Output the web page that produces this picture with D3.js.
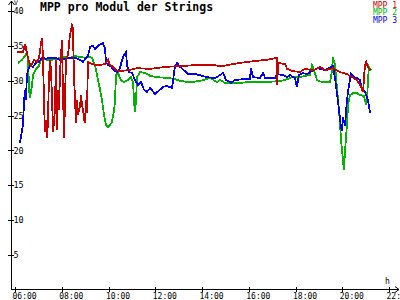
<!DOCTYPE html>
<html>
<head>
<meta charset="utf-8">
<script src="https://cdn.jsdelivr.net/npm/d3@7"></script>
<style>
  body { margin: 0; background: #fff; }
  svg { display: block; }
  text { font-family: "DejaVu Sans Mono", monospace; }
</style>
</head>
<body>
<svg width="400" height="300"></svg>
<script>
// time in hours, value in volts
const mpp1 = [
  [6.09,34.1],[6.34,34.1],[6.43,35.3],[6.51,34.0],[6.60,32.7],[6.68,32.1],[6.81,33.0],[6.94,32.7],
  [7.03,33.3],[7.11,35.3],[7.16,36.1],[7.20,33.0],[7.24,27.2],[7.28,22.6],[7.33,24.35],[7.37,21.8],
  [7.41,24.1],[7.45,30.1],[7.50,33.0],[7.54,31.5],[7.58,27.95],[7.63,22.6],[7.71,25.8],[7.75,33.0],
  [7.80,22.9],[7.84,28.7],[7.88,25.8],[7.93,31.5],[8.01,35.85],[8.05,28.7],[8.10,21.8],[8.14,27.2],
  [8.18,33.0],[8.27,33.7],[8.35,36.6],[8.40,37.3],[8.44,38.0],[8.48,37.6],[8.52,30.8],[8.57,27.2],
  [8.61,23.9],[8.65,27.2],[8.70,25.1],[8.74,25.8],[8.78,26.2],[8.82,27.95],[8.87,26.5],[8.91,25.8],
  [8.95,24.6],[8.99,23.9],[9.04,27.2],[9.08,25.4],[9.12,32.7],[9.21,32.55],[9.42,32.25],[9.64,32.25],
  [9.85,32.4],[9.98,33.0],[10.06,32.25],[10.19,32.0],[10.32,31.5],[10.49,31.4],[10.83,31.5],[11.22,31.8],
  [11.78,31.7],[12.50,32.0],[13.06,32.1],[13.79,32.25],[14.43,32.25],[14.86,32.1],[15.33,32.4],[15.93,32.7],
  [16.35,32.85],[16.78,33.0],[17.21,33.3],[17.22,29.4],[17.25,32.55],[17.55,32.4],[17.64,31.7],[17.85,31.4],
  [18.19,31.25],[18.41,31.7],[18.75,31.5],[19.05,32.0],[19.26,31.5],[19.60,31.8],[19.90,31.25],[20.20,30.95],
  [20.42,30.5],[20.63,30.1],[20.76,29.4],[20.89,28.4],[20.97,32.25],[21.02,32.7],[21.10,32.0],[21.19,31.5]
];

const mpp2 = [
  [6.13,32.55],[6.30,33.0],[6.43,33.55],[6.51,34.0],[6.56,33.0],[6.60,28.7],[6.64,27.5],[6.73,29.4],
  [6.77,30.8],[6.86,31.5],[6.94,31.8],[7.03,32.1],[7.07,32.7],[7.20,33.3],[7.37,33.0],[7.58,33.0],
  [7.80,33.15],[8.05,33.4],[8.35,33.3],[8.57,33.55],[8.78,33.4],[9.04,33.3],[9.21,33.4],[9.29,33.3],
  [9.42,32.25],[9.51,30.8],[9.64,28.7],[9.72,27.2],[9.81,25.1],[9.89,23.6],[9.98,23.35],[10.06,23.6],
  [10.15,24.1],[10.24,25.8],[10.28,27.2],[10.32,30.8],[10.41,31.1],[10.53,30.1],[10.66,29.8],[10.83,30.1],
  [10.96,30.5],[11.05,29.8],[11.09,27.2],[11.13,25.5],[11.18,27.2],[11.22,30.5],[11.35,31.25],[11.56,31.1],
  [11.78,30.7],[12.12,30.5],[12.50,30.4],[12.84,30.25],[13.06,29.95],[13.49,29.8],[13.91,29.95],[14.34,30.4],
  [14.64,29.8],[14.77,30.1],[14.98,29.7],[15.63,29.7],[16.05,29.8],[16.70,29.8],[17.34,29.95],[17.55,30.1],
  [17.85,30.5],[18.19,30.5],[18.41,30.7],[18.62,30.8],[18.71,32.25],[18.79,31.5],[18.92,30.1],[19.13,29.8],
  [19.48,29.8],[19.56,31.5],[19.60,33.4],[19.69,32.25],[19.78,28.7],[19.86,25.8],[19.95,21.5],[20.03,18.6],
  [20.07,17.2],[20.12,20.0],[20.20,23.6],[20.25,26.5],[20.33,27.95],[20.46,28.2],[20.63,28.2],[20.76,27.95],
  [20.93,27.8],[21.02,26.5],[21.06,27.2],[21.10,30.1],[21.14,32.0],[21.23,31.5]
];

const mpp3 = [
  [6.21,21.05],[6.30,22.9],[6.34,23.6],[6.39,27.2],[6.43,28.7],[6.47,27.2],[6.51,30.8],[6.56,31.5],
  [6.64,32.1],[6.77,32.0],[6.90,32.55],[7.03,32.7],[7.16,33.3],[7.33,33.15],[7.50,33.3],[7.71,33.3],
  [7.93,33.0],[8.14,33.15],[8.35,33.3],[8.57,33.3],[8.78,33.0],[8.91,32.7],[9.04,33.3],[9.12,33.55],
  [9.21,34.85],[9.34,35.0],[9.42,34.55],[9.55,35.0],[9.68,35.3],[9.76,35.4],[9.85,34.7],[9.89,32.7],
  [9.98,32.25],[10.11,32.0],[10.24,31.5],[10.36,31.25],[10.49,31.8],[10.58,33.0],[10.66,33.7],[10.75,34.1],
  [10.79,32.25],[10.88,31.25],[11.01,31.1],[11.13,30.1],[11.26,29.4],[11.39,29.8],[11.52,28.7],[11.65,28.4],
  [11.78,28.95],[11.99,28.1],[12.20,28.7],[12.33,29.1],[12.50,29.25],[12.72,28.95],[12.84,32.0],[12.93,32.55],
  [13.06,32.0],[13.23,31.5],[13.40,30.95],[13.70,30.95],[13.91,30.8],[14.21,30.5],[14.56,30.4],[14.77,30.8],
  [14.90,31.1],[15.03,30.1],[15.24,29.7],[15.41,30.1],[15.84,30.25],[16.05,30.25],[16.10,31.8],[16.18,30.5],
  [16.48,30.4],[16.61,31.1],[16.70,30.4],[17.12,30.4],[17.21,30.95],[17.47,30.8],[17.64,30.5],[17.76,30.8],
  [17.98,30.4],[18.06,29.1],[18.15,30.8],[18.32,31.1],[18.49,30.95],[18.75,31.5],[18.96,31.8],[19.26,31.5],
  [19.60,32.1],[19.69,30.4],[19.78,27.95],[19.86,25.8],[19.95,23.2],[19.99,22.8],[20.03,24.8],[20.12,23.5],
  [20.20,27.2],[20.29,29.4],[20.37,30.95],[20.50,30.5],[20.63,30.4],[20.76,30.1],[20.84,28.95],[20.97,28.4],
  [21.10,27.2],[21.19,25.4]
];

const seriesNames = ["MPP 1", "MPP 2", "MPP 3"];
const seriesColors = ["#c80000", "#00b400", "#0000f0"];
const yTicks = [5, 10, 15, 20, 25, 30, 35, 40];
const xTicks = [6, 8, 10, 12, 14, 16, 18, 20, 22];

const svg = d3.select("svg");

const x = d3.scaleLinear().domain([6, 22]).range([15, 389]);
const y = d3.scaleLinear().domain([0, 40]).range([289.5, 11.1]);

// axes lines + arrows
const axisG = svg.append("g").attr("stroke", "#000").attr("fill", "none")
  .attr("shape-rendering", "crispEdges");
axisG.append("line").attr("x1", 11.5).attr("x2", 11.5).attr("y1", 290).attr("y2", 1);
axisG.append("line").attr("x1", 11).attr("x2", 399).attr("y1", 289.5).attr("y2", 289.5);
svg.append("path").attr("d", "M8.5,5L11.5,1L14.5,5").attr("stroke", "#000").attr("fill", "none");
svg.append("path").attr("d", "M395,286.5L399,289.5L395,292.5").attr("stroke", "#000").attr("fill", "none");

// x ticks
const xAxis = svg.append("g")
  .attr("transform", "translate(0,287)")
  .call(d3.axisBottom(x).tickValues(xTicks).tickSize(5).tickFormat(d => d3.format("02d")(d) + ":00"));
xAxis.select(".domain").remove();
xAxis.selectAll("line").attr("shape-rendering", "crispEdges");
xAxis.selectAll("text")
  .attr("x", -3)
  .attr("y", 6)
  .attr("text-anchor", "start")
  .attr("font-size", "8px")
  .attr("font-family", "DejaVu Sans Mono")
  .attr("fill", "#000");

// y ticks
const yAxis = svg.append("g")
  .attr("transform", "translate(14,0)")
  .call(d3.axisLeft(y).tickValues(yTicks).tickSize(6));
yAxis.select(".domain").remove();
yAxis.selectAll("line").attr("shape-rendering", "crispEdges");
yAxis.selectAll("text")
  .attr("x", -0.5)
  .attr("text-anchor", "start")
  .attr("font-size", "8.5px")
  .attr("font-family", "DejaVu Sans Mono")
  .attr("fill", "#000");

svg.append("text").attr("x", 14).attr("y", 5).attr("font-size", "6.5px").text("V");
svg.append("text").attr("x", 385).attr("y", 284).attr("font-size", "8px").text("h");

// title
svg.append("text")
  .attr("x", 40).attr("y", 11)
  .attr("font-size", "11.5px")
  .attr("font-weight", "bold")
  .text("MPP pro Modul der Strings");

// legend
seriesNames.forEach((name, i) => {
  svg.append("text")
    .attr("x", 397).attr("y", 7.5 + i * 7.5)
    .attr("text-anchor", "end")
    .attr("font-size", "8px")
    .attr("fill", seriesColors[i])
    .text(name);
});

// lines
const line = d3.line().x(d => x(d[0])).y(d => y(d[1]));
const data = [mpp1, mpp2, mpp3];
[1, 2, 0].forEach(i => {
  svg.append("path")
    .datum(data[i])
    .attr("fill", "none")
    .attr("stroke", seriesColors[i])
    .attr("stroke-width", 1.8)
    .attr("shape-rendering", "crispEdges")
    .attr("d", line);
});
</script>
</body>
</html>
